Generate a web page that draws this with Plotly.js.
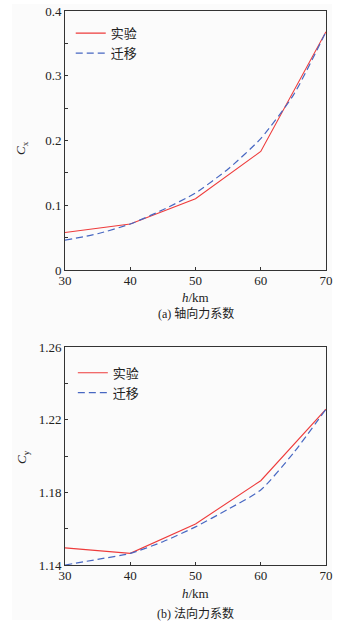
<!DOCTYPE html>
<html>
<head>
<meta charset="utf-8">
<script src="https://cdn.plot.ly/plotly-3.0.1.min.js"></script>
<style>
html,body{margin:0;padding:0;background:#ffffff;}
#bg{position:absolute;left:12px;top:4px;width:320px;height:616px;background:#fbfbfb;}
#chart{position:absolute;left:0;top:0;width:357px;height:629px;}
</style>
</head>
<body>
<div id="bg"></div>
<div id="chart"></div>
<script>
// Altitude h (km)
const hExp = [30, 40, 50, 60, 70];
const hTr = [30, 35, 40, 45, 50, 55, 60, 65, 70];

// (a) axial force coefficient Cx
const cxExp = [0.058, 0.071, 0.110, 0.183, 0.368];
const cxTr = [0.046, 0.056, 0.071, 0.093, 0.119, 0.156, 0.203, 0.270, 0.368];

// (b) normal force coefficient Cy
const cyExp = [1.1494, 1.1464, 1.1626, 1.1864, 1.2258];
const cyTr = [1.1400, 1.1431, 1.1464, 1.1528, 1.1610, 1.1707, 1.1813, 1.2016, 1.2258];

const nameExp = '实验';
const nameTr = '迁移';
const captionA = '(a) 轴向力系数';
const captionB = '(b) 法向力系数';

const red = '#ee3b3b';
const blue = '#4767c2';
const serif = '"Liberation Serif", "Times New Roman", serif';
const cjk = '"Noto Sans CJK SC", sans-serif';

const traces = [
  {x: hExp, y: cxExp, name: nameExp, type: 'scatter', mode: 'lines', xaxis: 'x', yaxis: 'y',
   line: {color: red, width: 1.1}, legend: 'legend'},
  {x: hTr, y: cxTr, name: nameTr, type: 'scatter', mode: 'lines', xaxis: 'x', yaxis: 'y',
   line: {color: blue, width: 1.2, dash: '7px,4px', shape: 'spline', smoothing: 0.6}, legend: 'legend'},
  {x: hExp, y: cyExp, name: nameExp, type: 'scatter', mode: 'lines', xaxis: 'x2', yaxis: 'y2',
   line: {color: red, width: 1.1}, legend: 'legend2'},
  {x: hTr, y: cyTr, name: nameTr, type: 'scatter', mode: 'lines', xaxis: 'x2', yaxis: 'y2',
   line: {color: blue, width: 1.2, dash: '7px,4px', shape: 'spline', smoothing: 0.6}, legend: 'legend2'}
];

const axisCommon = {
  showline: true, linecolor: '#333', linewidth: 1, mirror: true,
  ticks: 'inside', ticklen: 3, tickcolor: '#333', showgrid: false, zeroline: false,
  tickfont: {family: serif, size: 13, color: '#222'}
};

const legendCommon = {
  font: {family: cjk, size: 13, color: '#222'}, bgcolor: 'rgba(0,0,0,0)',
  borderwidth: 0, itemwidth: 30, tracegroupgap: 0, xanchor: 'left', yanchor: 'top'
};

const layout = {
  width: 357, height: 629,
  margin: {l: 65, r: 31, t: 11, b: 64},
  paper_bgcolor: 'rgba(0,0,0,0)',
  plot_bgcolor: '#fbfbfb',
  showlegend: true,
  xaxis: Object.assign({}, axisCommon, {domain: [0, 1], anchor: 'y', range: [30, 70], dtick: 10, tick0: 30, ticklabelstandoff: -2}),
  yaxis: Object.assign({}, axisCommon, {domain: [0.5325, 1], anchor: 'x', range: [0, 0.4], dtick: 0.1, tick0: 0,
    minor: {dtick: 0.05, ticks: 'inside', ticklen: 3, tickcolor: '#333'}}),
  xaxis2: Object.assign({}, axisCommon, {domain: [0, 1], anchor: 'y2', range: [30, 70], dtick: 10, tick0: 30, ticklabelstandoff: -2}),
  yaxis2: Object.assign({}, axisCommon, {domain: [0, 0.3935], anchor: 'x2', range: [1.14, 1.26], dtick: 0.04, tick0: 1.14,
    minor: {dtick: 0.02, ticks: 'inside', ticklen: 3, tickcolor: '#333'}}),
  legend: Object.assign({}, legendCommon, {x: 0.022, y: 0.987}),
  legend2: Object.assign({}, legendCommon, {x: 0.03, y: 0.374}),
  annotations: [
    {text: '<i>h</i>/km', xref: 'paper', yref: 'paper', x: 0.5, y: (565 - 297) / 554, xanchor: 'center', yanchor: 'middle',
     showarrow: false, font: {family: serif, size: 13, color: '#222'}},
    {text: captionA, xref: 'paper', yref: 'paper', x: 0.5, y: (565 - 313) / 554, xanchor: 'center', yanchor: 'middle',
     showarrow: false, font: {family: '"Liberation Serif", "Noto Sans CJK SC", serif', size: 12, color: '#222'}},
    {text: '<i>C</i><sub>x</sub>', xref: 'paper', yref: 'paper', x: (22 - 65) / 261, y: (565 - 148) / 554,
     xanchor: 'center', yanchor: 'middle', textangle: -90, showarrow: false, font: {family: serif, size: 13, color: '#222'}},
    {text: '<i>h</i>/km', xref: 'paper', yref: 'paper', x: 0.5, y: (565 - 593) / 554, xanchor: 'center', yanchor: 'middle',
     showarrow: false, font: {family: serif, size: 13, color: '#222'}},
    {text: captionB, xref: 'paper', yref: 'paper', x: 0.5, y: (565 - 613) / 554, xanchor: 'center', yanchor: 'middle',
     showarrow: false, font: {family: '"Liberation Serif", "Noto Sans CJK SC", serif', size: 12, color: '#222'}},
    {text: '<i>C</i><sub>y</sub>', xref: 'paper', yref: 'paper', x: (22 - 65) / 261, y: (565 - 457) / 554,
     xanchor: 'center', yanchor: 'middle', textangle: -90, showarrow: false, font: {family: serif, size: 13, color: '#222'}}
  ]
};

Plotly.newPlot('chart', traces, layout, {displayModeBar: false, staticPlot: true});
</script>
</body>
</html>
